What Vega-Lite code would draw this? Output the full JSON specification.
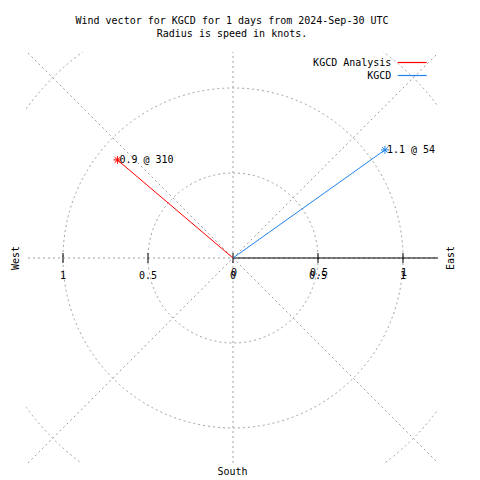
{
  "$schema": "https://vega.github.io/schema/vega-lite/v6.json",
  "autosize": {"type": "none"},
  "width": 412,
  "height": 411,
  "padding": {"left": 26, "top": 52, "right": 42, "bottom": 17},
  "background": "white",
  "config": {
    "view": {"stroke": null},
    "font": "DejaVu Sans Mono",
    "text": {"font": "DejaVu Sans Mono", "fontSize": 10, "color": "black"}
  },
  "title": {
    "text": ["Wind vector for KGCD for 1 days from 2024-Sep-30 UTC", "Radius is speed in knots."],
    "font": "DejaVu Sans Mono",
    "fontSize": 10,
    "fontWeight": "normal",
    "lineHeight": 13,
    "color": "black",
    "anchor": "middle",
    "offset": 13
  },
  "datasets": {
    "circles": [{"r": 0.5, "cx": 0, "cy": 0}, {"r": 1, "cx": 0, "cy": 0}, {"r": 1.5, "cx": 0, "cy": 0}],
    "spokes": [
      {"x": -2, "y": 0, "x2": 2, "y2": 0},
      {"x": 0, "y": -2, "x2": 0, "y2": 2},
      {"x": -1.4142, "y": -1.4142, "x2": 1.4142, "y2": 1.4142},
      {"x": -1.4142, "y": 1.4142, "x2": 1.4142, "y2": -1.4142}
    ],
    "ticks": [
      {"v": -1, "y": 0, "lab": "1"},
      {"v": -0.5, "y": 0, "lab": "0.5"},
      {"v": 0, "y": 0, "lab": "0"},
      {"v": 0.5, "y": 0, "lab": "0.5"},
      {"v": 1, "y": 0, "lab": "1"}
    ],
    "vectors": [
      {"series": "KGCD Analysis", "speed": 0.9, "dir": 310, "x0": 0, "y0": 0, "x": -0.68, "y": 0.577, "label": "0.9 @ 310"},
      {"series": "KGCD", "speed": 1.1, "dir": 54, "x0": 0, "y0": 0, "x": 0.894, "y": 0.636, "label": "1.1 @ 54"}
    ]
  },
  "resolve": {"axis": {"x": "independent", "y": "independent"}},
  "layer": [
    {
      "data": {"name": "circles"},
      "mark": {"type": "point", "shape": "circle", "filled": false, "stroke": "#a0a0a0", "strokeWidth": 1, "strokeDash": [2, 3], "opacity": 1, "clip": true},
      "encoding": {
        "x": {"field": "cx", "type": "quantitative", "scale": {"domain": [-1.2176, 1.2059], "nice": false, "zero": false},
              "axis": {"orient": "bottom", "title": "South", "domain": false, "ticks": false, "labels": false, "grid": false, "titleFont": "DejaVu Sans Mono", "titleFontSize": 10, "titleFontWeight": "normal", "titleColor": "black", "titlePadding": 3}},
        "y": {"field": "cy", "type": "quantitative", "scale": {"domain": [-1.2059, 1.2118], "nice": false, "zero": false},
              "axis": {"orient": "left", "title": "West", "domain": false, "ticks": false, "labels": false, "grid": false, "titleFont": "DejaVu Sans Mono", "titleFontSize": 10, "titleFontWeight": "normal", "titleColor": "black", "titlePadding": 6}},
        "size": {"field": "r", "type": "quantitative", "scale": {"type": "pow", "exponent": 2, "domain": [0, 1], "range": [0, 115600]}, "legend": null}
      }
    },
    {
      "data": {"name": "spokes"},
      "mark": {"type": "rule", "stroke": "#a0a0a0", "strokeWidth": 1, "strokeDash": [2, 3], "clip": true},
      "encoding": {
        "x": {"field": "x", "type": "quantitative", "axis": null},
        "y": {"field": "y", "type": "quantitative",
              "axis": {"orient": "right", "title": "East", "domain": false, "ticks": false, "labels": false, "grid": false, "titleFont": "DejaVu Sans Mono", "titleFontSize": 10, "titleFontWeight": "normal", "titleColor": "black", "titlePadding": 17, "titleAngle": -90}},
        "x2": {"field": "x2"},
        "y2": {"field": "y2"}
      }
    },
    {
      "data": {"values": [{"x": 0, "x2": 1.3, "y": 0}]},
      "mark": {"type": "rule", "stroke": "black", "strokeWidth": 1, "clip": true},
      "encoding": {
        "x": {"field": "x", "type": "quantitative", "axis": null},
        "x2": {"field": "x2"},
        "y": {"field": "y", "type": "quantitative", "axis": null}
      }
    },
    {
      "data": {"name": "ticks"},
      "mark": {"type": "tick", "orient": "vertical", "color": "black", "size": 10, "thickness": 1, "opacity": 1},
      "encoding": {
        "x": {"field": "v", "type": "quantitative", "axis": null},
        "y": {"field": "y", "type": "quantitative", "axis": null}
      }
    },
    {
      "data": {"name": "ticks"},
      "mark": {"type": "text", "align": "center", "baseline": "middle", "dy": 17.5, "font": "DejaVu Sans Mono", "fontSize": 10, "color": "black"},
      "encoding": {
        "x": {"field": "v", "type": "quantitative", "axis": null},
        "y": {"field": "y", "type": "quantitative", "axis": null},
        "text": {"field": "lab"}
      }
    },
    {
      "data": {"name": "ticks"},
      "transform": [{"filter": "datum.v >= 0"}],
      "mark": {"type": "text", "align": "center", "baseline": "middle", "dy": 14.5, "dx": 1, "font": "DejaVu Sans Mono", "fontSize": 10, "color": "black"},
      "encoding": {
        "x": {"field": "v", "type": "quantitative", "axis": null},
        "y": {"field": "y", "type": "quantitative", "axis": null},
        "text": {"field": "lab"}
      }
    },
    {
      "data": {"name": "vectors"},
      "mark": {"type": "rule", "strokeWidth": 1},
      "encoding": {
        "x": {"field": "x0", "type": "quantitative", "axis": null},
        "y": {"field": "y0", "type": "quantitative", "axis": null},
        "x2": {"field": "x"},
        "y2": {"field": "y"},
        "color": {"field": "series", "type": "nominal",
                  "scale": {"domain": ["KGCD Analysis", "KGCD"], "range": ["#ff0000", "#1e84f0"]},
                  "legend": {"orient": "none", "legendX": 380.7, "legendY": 5, "title": null, "symbolType": "M-3,0L3,0", "symbolSize": 93.4, "symbolStrokeWidth": 1.2, "labelAlign": "right", "labelOffset": -26.3, "labelFont": "DejaVu Sans Mono", "labelFontSize": 10, "labelColor": "black", "rowPadding": 2, "padding": 0, "labelLimit": 300}}
      }
    },
    {
      "data": {"name": "vectors"},
      "mark": {"type": "point", "shape": "M-1,0L1,0M0,-1L0,1M-0.7,-0.7L0.7,0.7M-0.7,0.7L0.7,-0.7", "filled": false, "size": 64, "strokeWidth": 1, "opacity": 1},
      "encoding": {
        "x": {"field": "x", "type": "quantitative", "axis": null},
        "y": {"field": "y", "type": "quantitative", "axis": null},
        "color": {"field": "series", "type": "nominal"}
      }
    },
    {
      "data": {"name": "vectors"},
      "mark": {"type": "text", "align": "left", "baseline": "middle", "dx": 2, "font": "DejaVu Sans Mono", "fontSize": 10, "color": "black"},
      "encoding": {
        "x": {"field": "x", "type": "quantitative", "axis": null},
        "y": {"field": "y", "type": "quantitative", "axis": null},
        "text": {"field": "label"}
      }
    }
  ]
}
